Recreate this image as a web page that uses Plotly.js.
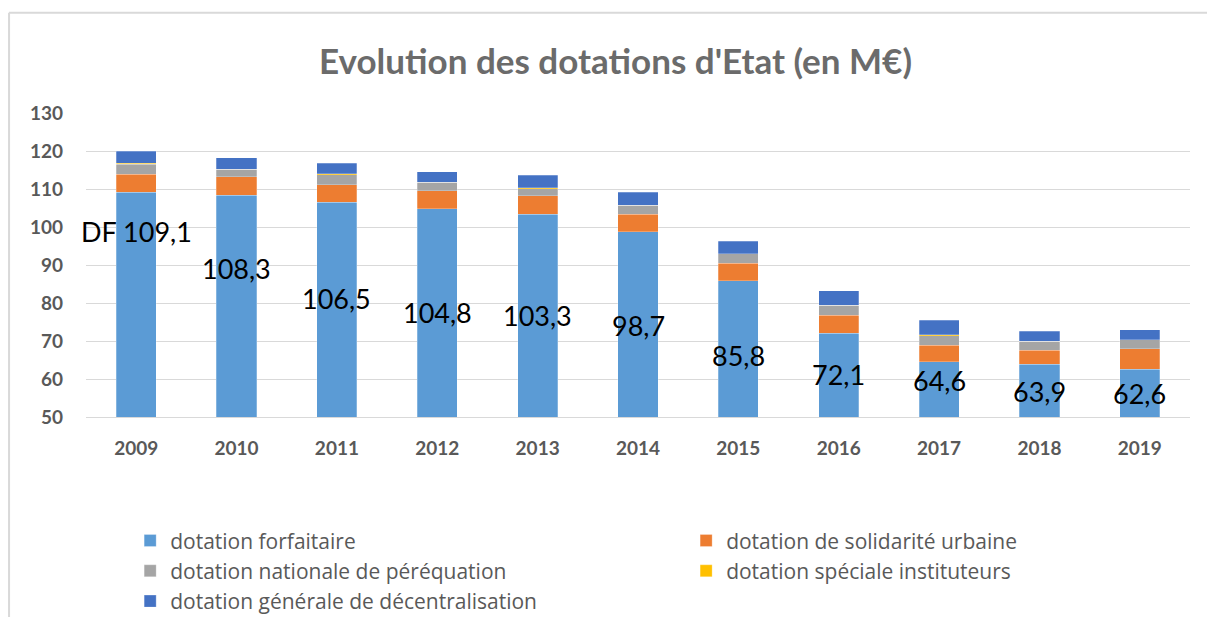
<!DOCTYPE html>
<html>
<head>
<meta charset="utf-8">
<script src="https://cdn.plot.ly/plotly-3.0.1.min.js"></script>
<style>html,body{margin:0;padding:0;background:#fff;}#chart{width:1207px;height:617px;}</style>
</head>
<body>
<div id="chart"></div>
<script>
const years = [2009, 2010, 2011, 2012, 2013, 2014, 2015, 2016, 2017, 2018, 2019];
const yearLabels = ['2009','2010','2011','2012','2013','2014','2015','2016','2017','2018','2019'];
const forfaitaire = [109.1, 108.3, 106.5, 104.8, 103.3, 98.7, 85.8, 72.1, 64.6, 63.9, 62.6];
const solidariteUrbaine = [4.8, 4.9, 4.6, 4.7, 4.9, 4.7, 4.7, 4.7, 4.3, 3.7, 5.3];
const perequation = [2.6, 2.0, 2.7, 2.3, 1.9, 2.3, 2.4, 2.6, 2.5, 2.3, 2.4];
const instituteurs = [0.3, 0, 0.2, 0, 0.2, 0, 0, 0, 0.2, 0, 0];
const decentralisation = [3.2, 3.0, 2.8, 2.8, 3.3, 3.4, 3.4, 3.8, 3.8, 2.7, 2.7];
const labelTexts = ['DF 109,1','108,3','106,5','104,8','103,3','98,7','85,8','72,1','64,6','63,9','62,6'];
const labelPos = [98.7, 89.2, 81.1, 77.4, 76.6, 74.2, 66.1, 61.3, 59.5, 56.8, 56.1];

const seriesNames = ['dotation forfaitaire','dotation de solidarité urbaine','dotation nationale de péréquation','dotation spéciale instituteurs','dotation générale de décentralisation'];
const seriesValues = [forfaitaire, solidariteUrbaine, perequation, instituteurs, decentralisation];
const colors = ['#5B9BD5','#ED7D31','#A5A5A5','#FFC000','#4472C4'];
const legendColumn = ['legend','legend2','legend','legend2','legend'];

const traces = seriesValues.map((vals, i) => ({
  type: 'bar',
  x: years,
  y: vals,
  name: seriesNames[i],
  legend: legendColumn[i],
  marker: {color: colors[i], line: {color: 'rgba(255,255,255,0.5)', width: 0.5}},
  hoverinfo: 'x+y+name'
}));

const annotations = years.map((yr, i) => ({
  x: yr, y: labelPos[i], xref: 'x', yref: 'y',
  text: labelTexts[i], showarrow: false,
  font: {family: 'Lato, "Open Sans", sans-serif', size: 27, color: '#000000'}
}));

const legendFont = {family: '"Open Sans", Lato, sans-serif', size: 21, color: '#595959'};

const layout = {
  width: 1207, height: 617,
  paper_bgcolor: '#ffffff', plot_bgcolor: '#ffffff',
  barmode: 'stack',
  bargap: 0.6,
  margin: {l: 86, r: 17, t: 113, b: 200, autoexpand: false},
  title: {
    text: "<b>Evolution des dotations d'Etat (en M€)</b>",
    font: {family: 'Lato, "Open Sans", sans-serif', size: 35, color: '#6b6b6b'},
    x: 0.51, xanchor: 'center', y: 0.9, yanchor: 'middle'
  },
  xaxis: {
    type: 'linear',
    range: [2008.5, 2019.5],
    tickmode: 'array', tickvals: years, ticktext: yearLabels,
    tickfont: {family: 'Lato, "Open Sans", sans-serif', size: 19, color: '#595959', weight: 'bold'},
    showgrid: false, showline: true, linecolor: '#D9D9D9', linewidth: 1,
    zeroline: false, ticks: '', ticklabelstandoff: 14
  },
  yaxis: {
    range: [50, 130], dtick: 10, tick0: 50,
    tickfont: {family: 'Lato, "Open Sans", sans-serif', size: 19, color: '#595959', weight: 'bold'},
    showgrid: true, gridcolor: '#D9D9D9', gridwidth: 1,
    zeroline: false, showline: false, ticks: '', ticklabelstandoff: 22
  },
  legend: {
    orientation: 'v',
    x: 0.04, xanchor: 'left', y: -0.34, yanchor: 'top',
    traceorder: 'normal', font: legendFont,
    itemwidth: 30, tracegroupgap: 0, bgcolor: 'rgba(0,0,0,0)'
  },
  legend2: {
    orientation: 'v',
    x: 0.5436, xanchor: 'left', y: -0.34, yanchor: 'top',
    traceorder: 'normal', font: legendFont,
    itemwidth: 30, tracegroupgap: 0, bgcolor: 'rgba(0,0,0,0)'
  },
  annotations: annotations,
  shapes: [
    {type: 'line', xref: 'paper', yref: 'paper', x0: -0.0697, x1: 1.02, y0: 1.33, y1: 1.33, line: {color: '#D9D9D9', width: 2}},
    {type: 'line', xref: 'paper', yref: 'paper', x0: -0.0697, x1: -0.0697, y0: 1.33, y1: -0.7, line: {color: '#D9D9D9', width: 2}}
  ],
  showlegend: true
};

Plotly.newPlot('chart', traces, layout, {displayModeBar: false, staticPlot: true});
</script>
</body>
</html>
